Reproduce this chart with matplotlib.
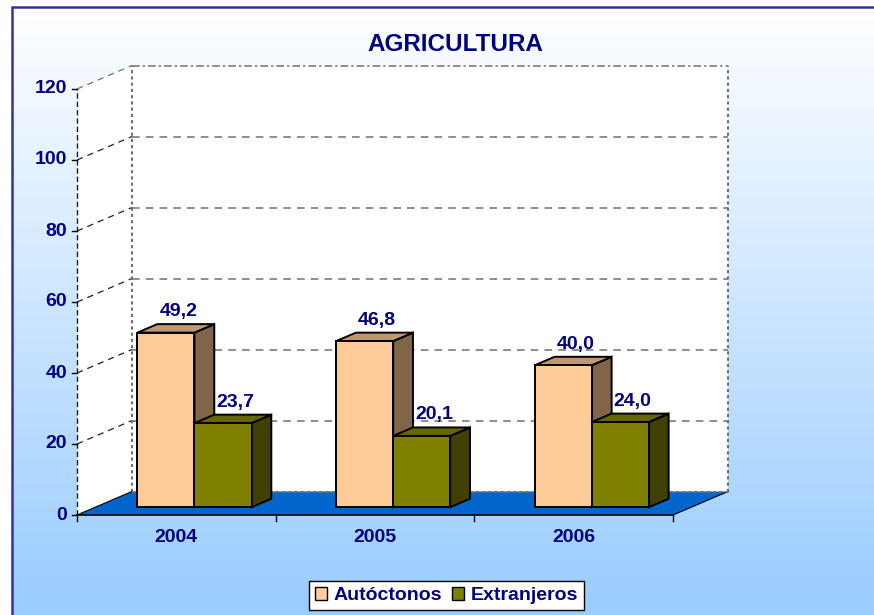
import numpy as np
import matplotlib
matplotlib.use("Agg")
import matplotlib.pyplot as plt
from matplotlib.patches import Polygon, Patch

plt.rcParams['font.family'] = ['Liberation Sans', 'DejaVu Sans']

# ------------------------------
# Data
# ------------------------------
title = "AGRICULTURA"
years = ["2004", "2005", "2006"]
autoctonos = [49.2, 46.8, 40.0]
extranjeros = [23.7, 20.1, 24.0]
series_names = ["Autóctonos", "Extranjeros"]
y_ticks = [0, 20, 40, 60, 80, 100, 120]

# colours: front, top, side
col_auto = ("#FFCC99", "#C09870", "#806548")
col_ext = ("#808000", "#666600", "#404000")
navy = "#000080"
floor_col = "#0066CC"
grid_col = "#707070"
fs = 14

# ------------------------------
# Layout (pixels of the 874x615 picture)
# ------------------------------
W, H = 874, 615
px_left, px_right = 77, 673      # front plane, categories 0..3
px_zero, px_top = 515, 89        # value 0 and 120 on front plane
ncat = len(years)
vmax = y_ticks[-1]
px_cat = (px_right - px_left) / ncat
px_val = (px_zero - px_top) / vmax

DX = 55 / px_cat                 # depth offset in category units
DY = 23.5 / px_val               # depth offset in value units
d_front, d_back = 0.33, 0.69     # bar depth range (fraction of floor)
bar_w = 0.287

fig = plt.figure(figsize=(W / 100, H / 100), dpi=100)
ax = fig.add_axes([0, 0, 1, 1])
ax.set_xlim(-px_left / px_cat, (W - px_left) / px_cat)
ax.set_ylim(-(H - px_zero) / px_val, px_zero / px_val)
ax.axis('off')

# background gradient inside border
x0, x1 = ax.get_xlim()
y0, y1 = ax.get_ylim()
bx0 = x0 + 12 / px_cat
by1 = y1 - 7 / px_val
t = np.linspace(0, 1, 256).reshape(-1, 1)
top_c = np.array([255, 255, 255]) / 255
bot_c = np.array([153, 204, 255]) / 255
grad = (top_c * (1 - t)[..., None] + bot_c * t[..., None]).reshape(256, 1, 3)
ax.imshow(grad, extent=[bx0, x1, y0, by1], aspect='auto', zorder=0)
ax.plot([bx0, bx0, x1], [y0, by1, by1], color="#333399", lw=1.8, zorder=1,
        solid_joinstyle='miter')

# walls
ax.add_patch(Polygon([(0, 0), (DX, DY), (DX, vmax + DY), (0, vmax)],
                     closed=True, fc='white', ec='none', zorder=1))
ax.add_patch(Polygon([(DX, DY), (ncat + DX, DY), (ncat + DX, vmax + DY), (DX, vmax + DY)],
                     closed=True, fc='white', ec='none', zorder=1))

# floor
ax.add_patch(Polygon([(0, 0), (ncat, 0), (ncat + DX, DY), (DX, DY)],
                     closed=True, fc=floor_col, ec='none', zorder=2))
ax.plot([0, DX], [0, DY], color='black', lw=0.8, zorder=3)
ax.plot([ncat, ncat + DX], [0, DY], color='black', lw=0.8, zorder=3)
ax.plot([DX, ncat + DX], [DY, DY], color=grid_col, lw=1.5, ls=(0, (1.5, 1.5)), zorder=3)

# gridlines
for v in y_ticks[1:]:
    if v == vmax:
        ls = (0, (5, 2, 1.5, 2))
    else:
        ls = (0, (5, 4))
    ax.plot([DX, ncat + DX], [v + DY, v + DY], color=grid_col, lw=1.1, ls=ls, zorder=2)
    ax.plot([0, DX], [v, v + DY], color='#202020' if v != vmax else grid_col,
            lw=0.9, ls=(0, (5, 4)), zorder=2)
ax.plot([DX, DX], [DY, vmax + DY], color=grid_col, lw=1.5, ls=(0, (1.5, 1.5)), zorder=2)
ax.plot([ncat + DX, ncat + DX], [DY, vmax + DY], color=grid_col, lw=1.5,
        ls=(0, (1.5, 1.5)), zorder=2)

# value axis
ax.plot([0, 0], [0, vmax], color='#202020', lw=1.0, ls=(0, (4, 2)), zorder=3)
for v in y_ticks:
    ax.plot([-5 / px_cat, 0], [v, v], color='black', lw=1.0, zorder=3)
    ax.text(-10 / px_cat, v, str(v), ha='right', va='center', fontsize=fs,
            fontweight='bold', color=navy, zorder=4)

# category axis
ax.plot([0, ncat], [0, 0], color='black', lw=1.2, zorder=3)
for i in range(ncat + 1):
    ax.plot([i, i], [0, -6 / px_val], color='black', lw=1.0, zorder=3)
for i, yr in enumerate(years):
    ax.text(i + 0.5, -23 / px_val, yr, ha='center', va='center', fontsize=fs,
            fontweight='bold', color=navy, zorder=4)


def bar3d(xl, val, cols, z):
    fx, fy = d_front * DX, d_front * DY
    bx, by = d_back * DX, d_back * DY
    xr = xl + bar_w
    front = [(xl + fx, fy), (xr + fx, fy), (xr + fx, val + fy), (xl + fx, val + fy)]
    top = [(xl + fx, val + fy), (xr + fx, val + fy), (xr + bx, val + by), (xl + bx, val + by)]
    side = [(xr + fx, fy), (xr + bx, by), (xr + bx, val + by), (xr + fx, val + fy)]
    for pts, c in ((side, cols[2]), (top, cols[1]), (front, cols[0])):
        ax.add_patch(Polygon(pts, closed=True, fc=c, ec='black', lw=1.4,
                             joinstyle='miter', zorder=z))
    dm = (d_front + d_back) / 2
    ax.text(xl + bar_w / 2 + dm * DX + 0.012, val + by + 4 / px_val,
            f"{val:.1f}".replace('.', ','),
            ha='center', va='bottom', fontsize=fs, fontweight='bold', color=navy, zorder=z + 1)


gap = (1 - 2 * bar_w) / 2
for i in range(ncat):
    bar3d(i + gap, autoctonos[i], col_auto, 5 + 2 * i)
    bar3d(i + gap + bar_w, extranjeros[i], col_ext, 6 + 2 * i)

# title
ax.text((455 - px_left) / px_cat, (px_zero - 45) / px_val,
        title, ha='center', va='center', fontsize=17.5, fontweight='bold', color=navy, zorder=4)

# legend
handles = [Patch(fc=col_auto[0], ec='black', lw=1.0),
           Patch(fc=col_ext[0], ec='black', lw=1.0)]
leg = fig.legend(handles, series_names, loc='center', ncol=2,
                 bbox_to_anchor=(446.5 / W, 1 - 595.5 / H), bbox_transform=fig.transFigure,
                 fontsize=fs, handlelength=0.62, handleheight=0.62, handletextpad=0.32,
                 columnspacing=0.55, borderpad=0.3, fancybox=False, framealpha=1)
leg.get_frame().set_edgecolor('black')
leg.get_frame().set_linewidth(1.0)
for txt in leg.get_texts():
    txt.set_color(navy)
    txt.set_fontweight('bold')

fig.savefig("out.png", dpi=100)
